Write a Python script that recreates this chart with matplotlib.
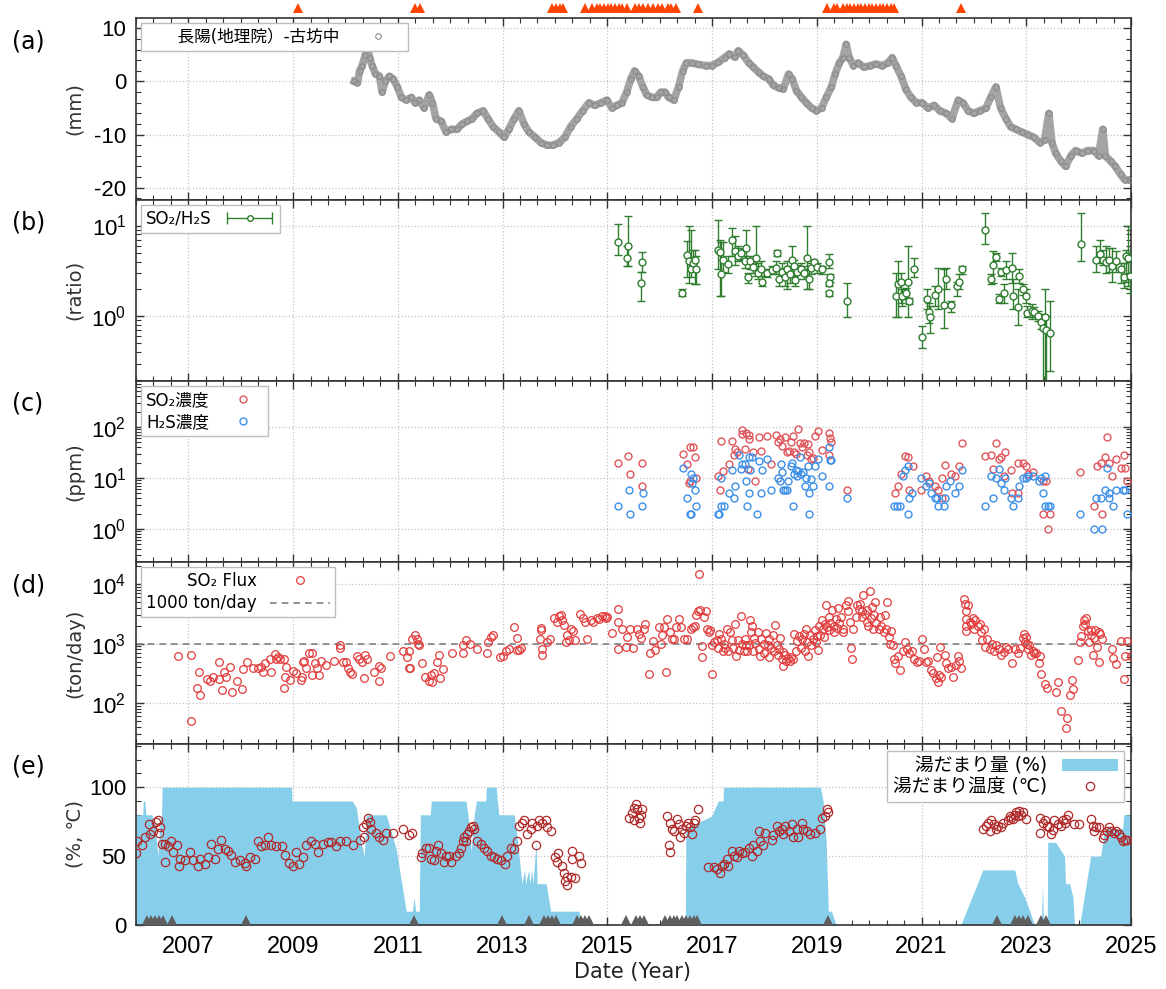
import numpy as np
import matplotlib
matplotlib.use('Agg')
import matplotlib.pyplot as plt
from matplotlib.ticker import MultipleLocator, LogLocator, NullFormatter, FixedLocator
from matplotlib.legend_handler import HandlerErrorbar
from matplotlib.container import ErrorbarContainer

# ---------------- data ----------------
# (a) GNSS baseline 長陽-古坊中, mm
gps_pts = [
    (2010.17, 0.0), (2010.23, -0.2), (2010.27, 2.0), (2010.32, 3.0), (2010.38, 5.0), (2010.42, 6.5), (2010.46, 4.5),
    (2010.51, 3.0), (2010.57, 1.5), (2010.65, 1.0), (2010.70, -2.0), (2010.76, 0.0), (2010.84, 1.0), (2010.91, 0.5),
    (2010.99, -1.0), (2011.07, -3.0), (2011.16, -3.5), (2011.26, -3.0), (2011.33, -4.0), (2011.41, -3.5), (2011.50, -5.0),
    (2011.60, -2.5), (2011.66, -4.0), (2011.73, -7.0), (2011.83, -7.5), (2011.92, -9.5), (2012.02, -9.0), (2012.13, -9.0),
    (2012.23, -8.0), (2012.32, -7.5), (2012.42, -7.0), (2012.51, -6.0), (2012.63, -5.5), (2012.72, -7.0), (2012.82, -8.5),
    (2012.93, -9.5), (2013.03, -10.5), (2013.12, -9.0), (2013.22, -7.0), (2013.31, -5.5), (2013.41, -8.0), (2013.50, -9.5),
    (2013.62, -10.5), (2013.73, -11.5), (2013.85, -12.0), (2013.96, -12.0), (2014.08, -11.5), (2014.19, -10.5),
    (2014.30, -8.5), (2014.42, -7.0), (2014.53, -5.5), (2014.65, -4.0), (2014.76, -4.5), (2014.88, -4.0), (2014.99, -3.5),
    (2015.09, -5.0), (2015.18, -4.5), (2015.28, -4.0), (2015.37, -2.0), (2015.45, 0.5), (2015.52, 2.0), (2015.60, 1.0),
    (2015.68, -1.0), (2015.75, -2.5), (2015.85, -3.0), (2015.94, -3.0), (2016.02, -2.0), (2016.10, -2.0), (2016.17, -3.0),
    (2016.27, -3.5), (2016.36, -1.0), (2016.44, 2.0), (2016.51, 3.5), (2016.61, 3.5), (2016.74, 3.2), (2016.88, 3.0),
    (2016.99, 3.0), (2017.12, 3.6), (2017.24, 4.5), (2017.33, 5.2), (2017.43, 4.6), (2017.50, 5.8), (2017.60, 4.9),
    (2017.70, 3.5), (2017.79, 2.7), (2017.89, 1.7), (2017.98, 1.0), (2018.08, 0.5), (2018.17, -0.7), (2018.27, -1.2),
    (2018.36, -1.4), (2018.46, 1.4), (2018.53, 0.5), (2018.61, -1.7), (2018.70, -2.9), (2018.80, -4.0), (2018.90, -5.0),
    (2018.99, -5.5), (2019.09, -5.0), (2019.18, -3.0), (2019.28, -1.0), (2019.35, 1.4), (2019.43, 3.5), (2019.50, 4.5),
    (2019.56, 7.0), (2019.62, 4.5), (2019.70, 3.0), (2019.79, 3.5), (2019.90, 2.7), (2020.02, 3.0), (2020.13, 3.3),
    (2020.25, 3.0), (2020.36, 3.5), (2020.44, 4.5), (2020.51, 3.0), (2020.61, 1.0), (2020.70, -1.5), (2020.80, -3.0),
    (2020.90, -4.0), (2021.01, -4.0), (2021.12, -5.0), (2021.24, -4.5), (2021.35, -5.5), (2021.47, -6.0), (2021.58, -7.0),
    (2021.70, -3.5), (2021.79, -4.0), (2021.89, -5.5), (2022.00, -6.0), (2022.11, -5.5), (2022.23, -5.0), (2022.32, -3.0),
    (2022.42, -1.0), (2022.51, -5.0), (2022.61, -7.0), (2022.70, -8.5), (2022.80, -9.0), (2022.91, -9.5), (2023.03, -10.0),
    (2023.14, -10.5), (2023.26, -11.5), (2023.35, -11.0), (2023.43, -6.0), (2023.49, -11.5), (2023.56, -13.5),
    (2023.66, -15.0), (2023.75, -16.0), (2023.85, -14.0), (2023.94, -13.0), (2024.06, -13.5), (2024.17, -13.0),
    (2024.29, -13.0), (2024.38, -14.0), (2024.46, -9.0), (2024.51, -14.0), (2024.61, -15.0), (2024.70, -16.0),
    (2024.80, -17.5), (2024.88, -18.5), (2024.97, -18.5),
]

# eruptions (orange triangles above panel a)
eruption_year = [2009.09, 2011.33, 2011.42, 2013.95, 2014.02, 2014.09, 2014.16, 2014.58, 2014.70, 2014.80, 2014.87,
                 2014.94, 2015.01, 2015.08, 2015.15, 2015.22, 2015.29, 2015.38, 2015.52, 2015.60, 2015.68, 2015.78,
                 2015.87, 2015.96, 2016.05, 2016.15, 2016.22, 2016.32, 2016.73, 2019.20, 2019.32, 2019.38, 2019.50,
                 2019.57, 2019.64, 2019.71, 2019.78, 2019.85, 2019.92, 2019.99, 2020.06, 2020.13, 2020.20, 2020.27,
                 2020.34, 2020.41, 2020.47, 2021.75]

# (b) SO2/H2S ratio: value with lower / upper bound
ratio_year = [2015.21, 2015.40, 2015.38, 2015.67, 2015.65, 2016.43, 2016.53, 2016.56, 2016.59, 2016.64, 2016.68, 2016.70,
              2017.11, 2017.15, 2017.17, 2017.20, 2017.31, 2017.39, 2017.43, 2017.49, 2017.56, 2017.63, 2017.65, 2017.69,
              2017.73, 2017.79, 2017.84, 2017.88, 2017.94, 2017.95,
              2018.05, 2018.14, 2018.24, 2018.22, 2018.28, 2018.33, 2018.39, 2018.44, 2018.48, 2018.53, 2018.57, 2018.59,
              2018.63, 2018.70, 2018.76, 2018.82, 2018.85, 2018.89, 2018.95,
              2019.00, 2019.09, 2019.23, 2019.25, 2019.24, 2019.24, 2019.58,
              2020.51, 2020.56, 2020.60, 2020.63, 2020.70, 2020.75, 2020.77, 2020.85,
              2021.00, 2021.11, 2021.15, 2021.17, 2021.26, 2021.32, 2021.43, 2021.47, 2021.56, 2021.67, 2021.72, 2021.77,
              2022.22, 2022.33, 2022.37, 2022.42, 2022.48, 2022.52, 2022.57, 2022.61, 2022.72, 2022.75, 2022.84, 2022.86,
              2022.93, 2022.99,
              2023.02, 2023.10, 2023.15, 2023.23, 2023.29, 2023.32, 2023.35, 2023.38, 2023.45,
              2024.04, 2024.34, 2024.41, 2024.47, 2024.53, 2024.58, 2024.64, 2024.72, 2024.81, 2024.86, 2024.90, 2024.95,
              2024.98]
ratio_val = [6.6, 5.9, 4.4, 4.0, 2.3, 1.78, 4.7, 4.1, 3.3, 3.9, 4.2, 3.3,
             5.4, 5.1, 2.9, 4.2, 3.8, 6.9, 5.2, 4.6, 5.0, 4.1, 5.6, 2.7, 4.1, 3.5, 4.4, 3.0, 3.3, 2.4,
             3.0, 3.2, 5.0, 3.4, 2.6, 3.1, 2.7, 3.3, 2.9, 4.2, 3.6, 2.5, 3.1, 3.3, 3.0, 4.4, 2.6, 3.4, 4.0,
             3.5, 3.3, 4.0, 2.7, 2.3, 1.79, 1.47,
             1.65, 2.25, 2.4, 1.65, 1.79, 2.4, 1.47, 3.3,
             0.59, 1.56, 1.12, 0.99, 1.70, 1.98, 1.32, 2.55, 1.32, 2.15, 2.4, 3.3,
             8.9, 2.55, 3.7, 4.5, 1.56, 3.1, 1.82, 3.2, 3.4, 1.65, 1.25, 2.8, 1.98, 1.67,
             1.08, 1.15, 1.12, 1.01, 0.87, 0.75, 0.97, 0.71, 0.65,
             6.3, 4.2, 4.9, 4.2, 4.0, 4.2, 3.6, 4.1, 3.3, 2.7, 4.6, 4.4, 2.8]
ratio_lo = [4.7, 3.6, 3.6, 3.1, 1.47, 1.65, 2.7, 2.3, 2.7, 3.3, 2.25, 2.25,
            3.3, 1.67, 1.67, 3.1, 3.0, 4.6, 3.7, 4.1, 4.2, 3.4, 4.1, 2.3, 3.3, 3.0, 2.8, 2.55, 2.8, 2.15,
            2.7, 2.9, 4.6, 2.9, 2.15, 2.55, 2.15, 1.98, 2.3, 3.1, 2.8, 2.15, 2.6, 2.9, 2.55, 1.98, 1.98, 2.9, 3.6,
            3.0, 2.9, 3.4, 2.4, 2.15, 1.67, 0.99,
            0.99, 0.99, 1.41, 1.30, 1.54, 0.99, 1.36, 2.7,
            0.45, 1.19, 0.85, 0.66, 1.30, 1.19, 0.75, 1.98, 1.10, 1.67, 1.98, 2.9,
            6.3, 2.25, 2.3, 4.1, 1.41, 2.8, 1.41, 2.55, 2.3, 1.19, 0.80, 2.3, 1.70, 1.41,
            0.97, 0.93, 0.97, 0.89, 0.72, 0.16, 0.16, 0.16, 0.25,
            4.1, 3.1, 3.9, 3.7, 3.0, 3.1, 2.4, 3.1, 2.3, 2.07, 2.4, 2.15, 1.82]
ratio_hi = [10.3, 12.7, 5.9, 5.1, 3.1, 1.98, 6.7, 9.8, 9.0, 5.4, 5.4, 4.6,
            11.6, 7.0, 6.5, 6.5, 4.6, 9.4, 7.6, 5.9, 5.7, 4.6, 8.9, 3.0, 4.6, 4.1, 9.8, 3.9, 4.1, 2.8,
            3.3, 3.6, 5.4, 4.1, 3.3, 3.9, 3.4, 4.1, 3.6, 5.9, 4.2, 3.0, 3.7, 3.9, 3.6, 10.0, 3.3, 3.9, 4.2,
            3.9, 3.6, 4.8, 2.9, 2.4, 1.90, 2.3,
            3.0, 4.1, 3.0, 1.98, 2.07, 5.9, 1.60, 4.4,
            0.77, 1.98, 1.41, 1.30, 2.15, 3.4, 3.3, 3.4, 1.47, 2.4, 2.9, 3.6,
            13.8, 2.9, 5.2, 5.0, 1.74, 3.4, 2.25, 4.1, 5.0, 2.55, 1.98, 3.3, 2.25, 1.98,
            1.30, 1.36, 1.25, 1.15, 1.05, 0.97, 1.98, 1.01, 1.47,
            13.8, 5.9, 6.9, 5.4, 5.9, 5.7, 5.7, 5.2, 3.9, 3.9, 5.4, 9.8, 5.0]

# (c) SO2 and H2S concentration, ppm
so2_year = [2015.21, 2015.39, 2015.43, 2015.67, 2015.66, 2016.45, 2016.53, 2016.58, 2016.63, 2016.67, 2016.57, 2016.56,
            2016.70,
            2017.16, 2017.12, 2017.20, 2017.18, 2017.32, 2017.39, 2017.41, 2017.43, 2017.48, 2017.57, 2017.57, 2017.64,
            2017.63, 2017.70, 2017.70, 2017.68, 2017.79, 2017.82, 2017.90, 2017.93,
            2018.05, 2018.12, 2018.22, 2018.25, 2018.30, 2018.34, 2018.40, 2018.44, 2018.47, 2018.51, 2018.54, 2018.56,
            2018.60, 2018.65, 2018.67, 2018.72, 2018.76, 2018.81, 2018.83, 2018.86, 2018.88, 2018.93, 2018.97,
            2019.03, 2019.10, 2019.24, 2019.25, 2019.28, 2019.23, 2019.57,
            2020.69, 2020.74, 2020.83, 2020.61, 2020.55, 2020.50, 2020.77, 2020.99,
            2021.09, 2021.14, 2021.25, 2021.31, 2021.40, 2021.45, 2021.40, 2021.56, 2021.64, 2021.72, 2021.77,
            2022.21, 2022.32, 2022.42, 2022.47, 2022.51, 2022.60, 2022.36, 2022.57, 2022.71, 2022.84, 2022.93, 2022.99,
            2023.04, 2023.13, 2022.73, 2022.84,
            2023.32, 2023.37, 2023.32, 2023.45, 2023.41,
            2024.03, 2024.30, 2024.45, 2024.35, 2024.42, 2024.51, 2024.55, 2024.58, 2024.64, 2024.72, 2024.81, 2024.87,
            2024.88, 2024.93]
so2_ppm = [20, 27, 12, 20, 7, 29, 19, 41, 41, 26, 8.8, 7.9, 10,
           5.8, 10.8, 13.6, 52, 19, 54, 28, 37, 32, 86, 74, 77, 37, 58, 71, 15, 32, 8.8, 63, 34,
           68, 19, 71, 50, 58, 43, 65, 32, 34, 50, 68, 32, 29, 93, 48, 40, 48, 28, 46, 32, 23, 25, 68,
           83, 35, 76, 60, 50, 28, 5.8,
           27, 26, 17, 12, 7.0, 5.0, 5.8, 5.8,
           10.8, 8.8, 7.0, 5.8, 10, 18, 4.0, 12, 10.8, 17, 48,
           27, 28, 48, 24, 26, 32, 15, 10.8, 14, 20, 20, 17, 11.7, 13, 5.0, 5.0,
           8.8, 8.8, 2.0, 2.0, 1.0,
           13, 2.8, 2.0, 17, 20, 26, 63, 20, 10.8, 24, 16, 28, 16, 8.8]
h2s_year = [2015.21, 2015.41, 2015.43, 2015.66, 2015.69,
            2016.45, 2016.53, 2016.57, 2016.59, 2016.59, 2016.61, 2016.64, 2016.67, 2016.70,
            2017.11, 2017.14, 2017.18, 2017.18, 2017.22, 2017.32, 2017.39, 2017.41, 2017.43, 2017.51, 2017.55, 2017.57,
            2017.63, 2017.64, 2017.66, 2017.70, 2017.70, 2017.73, 2017.77, 2017.86, 2017.90, 2017.94, 2017.95,
            2018.05, 2018.12, 2018.25, 2018.29, 2018.32, 2018.36, 2018.39, 2018.44, 2018.34, 2018.45, 2018.51, 2018.53,
            2018.55, 2018.56, 2018.60, 2018.62, 2018.65, 2018.67, 2018.69, 2018.73, 2018.77, 2018.80, 2018.83, 2018.85,
            2018.86, 2018.88, 2018.92, 2018.97,
            2019.03, 2019.10, 2019.23, 2019.24, 2019.26, 2019.28, 2019.57,
            2020.48, 2020.53, 2020.58, 2020.64, 2020.69, 2020.74, 2020.74, 2020.77, 2020.81, 2020.99,
            2021.09, 2021.14, 2021.18, 2021.25, 2021.29, 2021.31, 2021.42, 2021.44, 2021.46, 2021.55, 2021.64, 2021.72,
            2021.77,
            2022.21, 2022.32, 2022.37, 2022.42, 2022.48, 2022.51, 2022.57, 2022.60, 2022.71, 2022.74, 2022.84, 2022.86,
            2022.94, 2022.99,
            2023.04, 2023.13, 2023.24, 2023.28, 2023.35, 2023.32, 2023.35, 2023.41, 2023.45,
            2024.03, 2024.30, 2024.45, 2024.34, 2024.42, 2024.51, 2024.55, 2024.58, 2024.58, 2024.65, 2024.72, 2024.85,
            2024.89, 2024.93]
h2s_ppm = [2.8, 5.8, 2.0, 2.8, 5.0,
           16, 4.0, 2.0, 2.0, 12, 7.9, 10, 5.8, 2.8,
           2.0, 2.0, 10, 2.8, 2.8, 5.0, 14, 4.0, 7.0, 28, 15, 19, 19, 8.8, 2.8, 26, 5.0, 14, 26, 2.0, 21, 5.0, 14,
           23, 5.8, 10, 8.8, 19, 5.8, 5.8, 5.8, 13, 8.8, 17, 20, 2.8, 12, 14, 10.8, 13.6, 26, 12, 13, 7.0, 10, 17, 2.0,
           5.0, 9.7, 7.0, 17,
           23, 10.8, 7.0, 41, 22, 22, 4.0,
           2.8, 2.8, 2.8, 10.8, 14, 17, 2.0, 4.0, 5.0, 10,
           7.0, 7.9, 5.0, 4.0, 4.0, 2.8, 2.8, 4.0, 7.0, 8.8, 5.0, 7.0, 14,
           2.8, 10.8, 4.0, 10, 15, 7.9, 5.8, 10, 4.0, 2.8, 4.0, 7.0, 10, 10,
           10.8, 10.8, 8.8, 10, 10.8, 5.0, 2.8, 2.8, 2.8,
           2.0, 1.0, 1.0, 4.0, 4.0, 5.8, 16, 5.0, 4.0, 2.8, 5.8, 5.8, 5.8, 2.0]

# (d) SO2 flux, ton/day
flux_pts = [
    (2006.81, 617), (2007.06, 640), (2007.06, 51), (2007.16, 182), (2007.21, 337), (2007.22, 138), (2007.35, 255),
    (2007.42, 236), (2007.47, 279), (2007.59, 496), (2007.59, 255), (2007.65, 167), (2007.68, 337), (2007.71, 279),
    (2007.79, 408), (2007.84, 157), (2007.93, 236), (2008.02, 171), (2008.04, 374), (2008.12, 483), (2008.23, 394),
    (2008.33, 390), (2008.39, 408), (2008.43, 337), (2008.47, 464), (2008.55, 562), (2008.58, 337), (2008.65, 656),
    (2008.68, 562), (2008.72, 600), (2008.75, 562), (2008.83, 182), (2008.83, 550), (2008.85, 279), (2008.87, 408),
    (2008.95, 245), (2009.00, 347), (2009.05, 316), (2009.16, 245), (2009.17, 279), (2009.19, 496), (2009.20, 510),
    (2009.25, 390), (2009.31, 682), (2009.36, 708), (2009.37, 297), (2009.41, 464), (2009.45, 394), (2009.49, 297),
    (2009.54, 510), (2009.62, 436), (2009.79, 510), (2009.89, 847), (2009.90, 938), (2009.95, 483), (2010.01, 483),
    (2010.04, 390), (2010.08, 329), (2010.13, 304), (2010.23, 624), (2010.26, 562), (2010.31, 496), (2010.36, 268),
    (2010.38, 640), (2010.42, 562), (2010.55, 337), (2010.65, 236), (2010.68, 394), (2010.65, 420), (2010.85, 617),
    (2011.09, 747), (2011.17, 600), (2011.21, 747), (2011.21, 390), (2011.23, 394), (2011.28, 1211), (2011.33, 1413),
    (2011.37, 1185), (2011.40, 962), (2011.39, 1000), (2011.46, 464), (2011.52, 279), (2011.60, 236), (2011.63, 297),
    (2011.65, 229), (2011.70, 316), (2011.74, 496), (2011.79, 640), (2011.80, 268), (2011.86, 374), (2012.04, 682),
    (2012.24, 708), (2012.25, 938), (2012.31, 1135), (2012.37, 1000), (2012.51, 805), (2012.70, 708), (2012.73, 1067),
    (2012.78, 1291), (2012.82, 1413), (2012.96, 600), (2013.00, 624), (2013.06, 747), (2013.13, 805), (2013.21, 1897),
    (2013.27, 1244), (2013.27, 776), (2013.31, 776), (2013.36, 847), (2013.72, 1211), (2013.74, 1667), (2013.74, 1850),
    (2013.76, 820), (2013.76, 640), (2013.85, 1067), (2013.90, 1185), (2013.99, 2680), (2014.03, 2300), (2014.08, 2900),
    (2014.11, 3040), (2014.14, 2450), (2014.17, 2075), (2014.21, 1067), (2014.23, 1377), (2014.26, 1135), (2014.30, 1778),
    (2014.35, 1600), (2014.39, 1135), (2014.48, 3162), (2014.53, 2680), (2014.57, 2300), (2014.62, 1185), (2014.68, 2450),
    (2014.73, 2300), (2014.80, 2680), (2014.84, 2540), (2014.89, 2900), (2014.95, 2900), (2014.98, 2680), (2015.00, 2800),
    (2015.09, 1524), (2015.20, 3830), (2015.20, 2300), (2015.20, 805), (2015.29, 1778), (2015.36, 881), (2015.38, 1291),
    (2015.43, 1778), (2015.49, 847), (2015.56, 1778), (2015.61, 1468), (2015.65, 1244), (2015.70, 1778), (2015.72, 2154),
    (2015.79, 304), (2015.81, 682), (2015.88, 1094), (2015.92, 776), (2015.98, 1897), (2016.03, 1000), (2016.05, 1377),
    (2016.08, 1897), (2016.12, 329), (2016.14, 2540), (2016.19, 1567), (2016.23, 1211), (2016.28, 1211), (2016.32, 1897),
    (2016.37, 2540), (2016.41, 1897), (2016.46, 1211), (2016.53, 1211), (2016.59, 1778), (2016.64, 1897), (2016.67, 2000),
    (2016.70, 2965), (2016.73, 3550), (2016.75, 14700), (2016.77, 3600), (2016.80, 600), (2016.80, 910), (2016.84, 2800),
    (2016.89, 3550), (2016.91, 1778), (2016.94, 1567), (2016.97, 1667), (2017.00, 304), (2017.00, 938), (2017.04, 1067),
    (2017.09, 1135), (2017.11, 847), (2017.13, 1468), (2017.18, 1211), (2017.20, 747), (2017.22, 1000), (2017.25, 847),
    (2017.29, 1778), (2017.31, 747), (2017.34, 1567), (2017.38, 1135), (2017.40, 847), (2017.43, 2154), (2017.45, 624),
    (2017.49, 1135), (2017.52, 776), (2017.56, 2900), (2017.58, 1000), (2017.61, 747), (2017.63, 1185), (2017.65, 938),
    (2017.67, 747), (2017.70, 938), (2017.72, 2450), (2017.74, 1567), (2017.76, 2000), (2017.79, 747), (2017.81, 1244),
    (2017.82, 1030), (2017.88, 1567), (2017.90, 805), (2017.92, 624), (2017.94, 1185), (2017.99, 682), (2018.00, 1000),
    (2018.03, 1524), (2018.06, 938), (2018.08, 600), (2018.09, 1211), (2018.12, 847), (2018.17, 1413), (2018.18, 747),
    (2018.21, 2075), (2018.24, 962), (2018.26, 640), (2018.27, 805), (2018.30, 1244), (2018.33, 562), (2018.35, 720),
    (2018.36, 425), (2018.39, 640), (2018.42, 510), (2018.45, 580), (2018.48, 510), (2018.51, 600), (2018.54, 562),
    (2018.57, 1468), (2018.60, 747), (2018.62, 1094), (2018.66, 1330), (2018.69, 847), (2018.71, 1211), (2018.75, 1468),
    (2018.78, 747), (2018.80, 1778), (2018.82, 1067), (2018.84, 624), (2018.87, 1413), (2018.89, 938), (2018.93, 1185),
    (2018.96, 1667), (2018.98, 1067), (2019.00, 1330), (2019.02, 776), (2019.05, 2000), (2019.06, 1413), (2019.09, 2450),
    (2019.11, 1778), (2019.14, 1291), (2019.15, 2154), (2019.18, 4470), (2019.20, 1897), (2019.23, 2800), (2019.24, 1667),
    (2019.26, 2200), (2019.29, 3620), (2019.32, 1950), (2019.33, 1567), (2019.36, 2540), (2019.38, 1850), (2019.41, 3935),
    (2019.42, 2200), (2019.47, 2800), (2019.50, 1567), (2019.51, 1778), (2019.56, 4350), (2019.59, 5270), (2019.60, 3550),
    (2019.63, 2300), (2019.65, 847), (2019.68, 550), (2019.69, 1778), (2019.74, 2800), (2019.77, 4470), (2019.80, 3830),
    (2019.83, 4600), (2019.86, 3550), (2019.87, 2800), (2019.89, 6560), (2019.92, 3162), (2019.95, 2300), (2019.96, 3600),
    (2019.98, 2000), (2020.01, 7750), (2020.04, 2680), (2020.05, 4100), (2020.07, 1778), (2020.10, 3040), (2020.12, 4950),
    (2020.14, 2200), (2020.19, 1778), (2020.21, 2800), (2020.23, 2000), (2020.28, 1567), (2020.30, 3040), (2020.32, 1778),
    (2020.34, 4950), (2020.37, 1291), (2020.39, 1000), (2020.41, 1600), (2020.46, 938), (2020.48, 562), (2020.50, 464),
    (2020.55, 624), (2020.59, 360), (2020.64, 747), (2020.68, 1067), (2020.73, 805), (2020.77, 682), (2020.82, 747),
    (2020.86, 562), (2020.91, 496), (2020.95, 510), (2021.00, 1185), (2021.04, 805), (2021.09, 496), (2021.13, 510),
    (2021.18, 360), (2021.22, 316), (2021.27, 261), (2021.29, 600), (2021.31, 229), (2021.34, 297), (2021.36, 881),
    (2021.38, 279), (2021.45, 640), (2021.47, 464), (2021.51, 390), (2021.56, 408), (2021.60, 279), (2021.65, 436),
    (2021.69, 624), (2021.72, 510), (2021.76, 390), (2021.81, 5620), (2021.83, 4600), (2021.84, 3550), (2021.85, 2540),
    (2021.85, 2000), (2021.85, 1600), (2021.89, 4350), (2021.92, 2300), (2021.94, 2154), (2021.98, 2680), (2022.01, 1778),
    (2022.03, 2450), (2022.07, 2000), (2022.12, 2154), (2022.14, 1567), (2022.16, 1135), (2022.19, 1778), (2022.21, 881),
    (2022.25, 1211), (2022.30, 805), (2022.34, 1000), (2022.39, 747), (2022.43, 938), (2022.48, 805), (2022.52, 640),
    (2022.57, 720), (2022.61, 881), (2022.66, 805), (2022.73, 464), (2022.79, 820), (2022.84, 708), (2022.88, 847),
    (2022.93, 1244), (2022.96, 1468), (2022.97, 1067), (2023.00, 1291), (2023.02, 1000), (2023.04, 805), (2023.06, 938),
    (2023.09, 640), (2023.13, 747), (2023.15, 708), (2023.19, 682), (2023.24, 464), (2023.27, 624), (2023.29, 304),
    (2023.36, 207), (2023.40, 182), (2023.57, 152), (2023.61, 224), (2023.67, 74), (2023.78, 56), (2023.75, 39),
    (2023.84, 138), (2023.89, 174), (2023.87, 245), (2023.99, 528), (2024.03, 1067), (2024.05, 1330), (2024.08, 2000),
    (2024.11, 2450), (2024.12, 2154), (2024.14, 2680), (2024.18, 1600), (2024.20, 1067), (2024.23, 1413), (2024.23, 1667),
    (2024.27, 640), (2024.29, 1244), (2024.32, 1667), (2024.35, 881), (2024.38, 1567), (2024.39, 483), (2024.41, 1468),
    (2024.44, 1211), (2024.63, 805), (2024.65, 580), (2024.72, 450), (2024.80, 1094), (2024.86, 255), (2024.89, 624),
    (2024.92, 1094), (2025.00, 624),
]
flux_ref = 1000

# (e) crater lake water amount (%) and temperature (deg C)
lake_pts = [
    (2006.00, 80), (2006.13, 80), (2006.14, 90), (2006.17, 90), (2006.19, 80), (2006.30, 80), (2006.36, 75),
    (2006.42, 50), (2006.46, 75), (2006.49, 80), (2006.50, 100), (2008.97, 100), (2008.98, 90), (2010.13, 90),
    (2010.21, 85), (2010.30, 60), (2010.36, 50), (2010.40, 80), (2010.78, 80), (2010.97, 55), (2011.16, 10),
    (2011.28, 10), (2011.31, 20), (2011.34, 10), (2011.41, 10), (2011.43, 80), (2011.62, 80), (2011.64, 90),
    (2012.30, 90), (2012.34, 80), (2012.40, 54), (2012.46, 80), (2012.50, 90), (2012.68, 90), (2012.69, 100),
    (2012.88, 100), (2012.90, 90), (2012.93, 80), (2013.22, 80), (2013.26, 70), (2013.37, 30), (2013.42, 40),
    (2013.44, 30), (2013.50, 40), (2013.52, 30), (2013.56, 40), (2013.58, 30), (2013.64, 60), (2013.66, 30),
    (2013.83, 30), (2013.92, 10), (2014.46, 10), (2014.50, 0), (2016.49, 0), (2016.50, 70), (2016.99, 79),
    (2017.12, 90), (2017.21, 90), (2017.22, 100), (2019.07, 100), (2019.12, 90), (2019.18, 60), (2019.22, 10),
    (2019.28, 10), (2019.37, 0), (2021.75, 0), (2022.17, 40), (2022.78, 40), (2022.84, 30), (2022.97, 20),
    (2023.16, 0), (2023.29, 0), (2023.31, 30), (2023.33, 0), (2023.40, 0), (2023.41, 60), (2023.56, 60),
    (2023.73, 50), (2023.75, 30), (2023.83, 30), (2023.89, 20), (2023.92, 0), (2024.02, 0), (2024.23, 50),
    (2024.42, 50), (2024.50, 70), (2024.84, 70), (2024.86, 80), (2025.00, 80),
]
temp_pts = [
    (2006.01, 52), (2006.02, 61), (2006.11, 58), (2006.17, 64), (2006.24, 73), (2006.27, 66), (2006.33, 68),
    (2006.39, 75), (2006.43, 76), (2006.44, 67), (2006.46, 71), (2006.49, 59), (2006.55, 59), (2006.55, 46),
    (2006.62, 57), (2006.66, 61), (2006.71, 53), (2006.78, 58), (2006.83, 43), (2006.84, 48), (2006.93, 47),
    (2007.03, 53), (2007.09, 47), (2007.19, 43), (2007.22, 48), (2007.31, 44), (2007.38, 49), (2007.44, 59),
    (2007.51, 48), (2007.57, 55), (2007.63, 62), (2007.70, 55), (2007.76, 54), (2007.82, 51), (2007.89, 46),
    (2007.98, 47), (2008.08, 45), (2008.11, 43), (2008.17, 49), (2008.27, 48), (2008.33, 61), (2008.39, 57),
    (2008.46, 58), (2008.52, 64), (2008.58, 58), (2008.68, 57), (2008.78, 57), (2008.84, 51), (2008.93, 45),
    (2009.00, 43), (2009.06, 53), (2009.12, 44), (2009.19, 49), (2009.25, 58), (2009.35, 61), (2009.41, 59),
    (2009.47, 53), (2009.57, 59), (2009.66, 60), (2009.73, 60), (2009.82, 57), (2009.89, 61), (2010.01, 61),
    (2010.14, 58), (2010.27, 62), (2010.33, 71), (2010.36, 64), (2010.39, 73), (2010.43, 78), (2010.46, 75),
    (2010.49, 70), (2010.58, 67), (2010.65, 64), (2010.71, 62), (2010.78, 67), (2010.90, 67), (2011.09, 70),
    (2011.22, 65), (2011.28, 67), (2011.44, 49), (2011.47, 52), (2011.54, 56), (2011.60, 56), (2011.63, 48),
    (2011.70, 47), (2011.73, 54), (2011.76, 58), (2011.82, 52), (2011.89, 46), (2011.92, 50), (2011.98, 50),
    (2012.01, 46), (2012.11, 50), (2012.17, 52), (2012.20, 56), (2012.24, 61), (2012.27, 64), (2012.30, 61),
    (2012.33, 66), (2012.36, 68), (2012.39, 71), (2012.43, 72), (2012.46, 70), (2012.52, 61), (2012.58, 59),
    (2012.65, 56), (2012.71, 54), (2012.78, 50), (2012.84, 49), (2012.90, 48), (2012.97, 47), (2013.05, 44),
    (2013.09, 50), (2013.16, 56), (2013.22, 55), (2013.28, 61), (2013.31, 72), (2013.37, 74), (2013.41, 76),
    (2013.47, 66), (2013.54, 70), (2013.57, 74), (2013.63, 58), (2013.66, 72), (2013.70, 76), (2013.76, 74),
    (2013.82, 76), (2013.85, 71), (2013.92, 68), (2014.01, 49), (2014.03, 46), (2014.05, 52), (2014.13, 43),
    (2014.17, 38), (2014.19, 32), (2014.24, 29), (2014.24, 35), (2014.30, 35), (2014.32, 54), (2014.33, 48),
    (2014.38, 34), (2014.46, 50), (2014.49, 45), (2015.41, 78), (2015.47, 81), (2015.51, 85), (2015.54, 88),
    (2015.57, 84), (2015.51, 76), (2015.60, 78), (2015.63, 74), (2015.66, 84), (2015.65, 80), (2016.14, 79),
    (2016.17, 58), (2016.19, 74), (2016.20, 53), (2016.23, 70), (2016.27, 68), (2016.33, 77), (2016.36, 73),
    (2016.39, 64), (2016.43, 70), (2016.47, 67), (2016.50, 72), (2016.55, 74), (2016.58, 71), (2016.62, 66),
    (2016.65, 74), (2016.68, 76), (2016.74, 84), (2016.93, 42), (2017.03, 42), (2017.09, 41), (2017.16, 38),
    (2017.19, 43), (2017.22, 44), (2017.28, 48), (2017.31, 43), (2017.38, 54), (2017.41, 50), (2017.47, 49),
    (2017.51, 54), (2017.57, 52), (2017.63, 53), (2017.70, 56), (2017.76, 50), (2017.79, 58), (2017.85, 54),
    (2017.89, 68), (2017.92, 61), (2017.98, 58), (2018.01, 67), (2018.14, 62), (2018.17, 65), (2018.24, 72),
    (2018.27, 68), (2018.33, 70), (2018.36, 66), (2018.39, 72), (2018.46, 68), (2018.52, 73), (2018.55, 64),
    (2018.62, 70), (2018.65, 64), (2018.71, 74), (2018.74, 70), (2018.81, 68), (2018.87, 66), (2018.97, 67),
    (2019.06, 70), (2019.09, 78), (2019.16, 79), (2019.19, 84), (2019.22, 82), (2022.17, 70), (2022.24, 72),
    (2022.27, 74), (2022.30, 68), (2022.33, 76), (2022.39, 73), (2022.43, 70), (2022.46, 72), (2022.52, 71),
    (2022.55, 74), (2022.65, 76), (2022.68, 79), (2022.71, 78), (2022.74, 77), (2022.78, 80), (2022.81, 82),
    (2022.84, 79), (2022.87, 83), (2022.90, 80), (2022.93, 82), (2022.99, 77), (2023.27, 78), (2023.27, 67),
    (2023.31, 74), (2023.36, 76), (2023.40, 72), (2023.44, 71), (2023.47, 66), (2023.51, 69), (2023.52, 76),
    (2023.60, 73), (2023.67, 72), (2023.70, 76), (2023.73, 74), (2023.76, 77), (2023.79, 80), (2023.92, 73),
    (2024.01, 73), (2024.24, 77), (2024.27, 72), (2024.30, 68), (2024.33, 71), (2024.39, 71), (2024.46, 63),
    (2024.49, 65), (2024.54, 68), (2024.57, 71), (2024.62, 68), (2024.67, 67), (2024.71, 68), (2024.78, 66),
    (2024.81, 64), (2024.84, 61), (2024.88, 62), (2024.92, 62),
]
# grey triangles at the bottom of panel e
event_year = [2006.21, 2006.29, 2006.36, 2006.44, 2006.51, 2006.69, 2008.11, 2011.31, 2012.99, 2013.50, 2013.79,
              2013.87, 2013.94, 2014.02, 2014.42, 2014.50, 2014.57, 2014.65, 2015.35, 2015.54, 2015.62, 2015.70,
              2016.11, 2016.19, 2016.27, 2016.34, 2016.42, 2016.50, 2016.57, 2016.65, 2016.72, 2019.22, 2022.44,
              2022.78, 2022.86, 2022.93, 2023.03, 2023.28, 2023.37]

year_ticks = list(range(2007, 2026, 2))
panel_tags = ['(a)', '(b)', '(c)', '(d)', '(e)']
ylabels = ['(mm)', '(ratio)', '(ppm)', '(ton/day)', '(%, ℃)']

# ---------------- styling ----------------
plt.rcParams['font.family'] = ['Liberation Sans', 'Noto Sans CJK JP']
plt.rcParams['axes.unicode_minus'] = False
plt.rcParams['mathtext.fontset'] = 'custom'
plt.rcParams['mathtext.rm'] = 'Liberation Sans'
plt.rcParams['mathtext.it'] = 'Liberation Sans:italic'
plt.rcParams['mathtext.bf'] = 'Liberation Sans:bold'
LABEL_FONT = ['DejaVu Sans', 'Noto Sans CJK JP']
LEG_FONT = dict(family=['DejaVu Sans', 'Noto Sans CJK JP'], size=12)

fig = plt.figure(figsize=(11.66, 9.89), dpi=100)
axes = fig.subplots(5, 1, sharex=True,
                    gridspec_kw=dict(hspace=0, left=0.1166, right=0.970, top=0.9815, bottom=0.0647))
ax_a, ax_b, ax_c, ax_d, ax_e = axes


def legend(ax, **kw):
    opts = dict(prop=LEG_FONT, markerfirst=False, fancybox=False, framealpha=1,
                edgecolor='#bdbdbd', handlelength=3, borderpad=0.3, labelspacing=0.25,
                handletextpad=0.8)
    opts.update(kw)
    leg = ax.legend(**opts)
    leg.get_frame().set_linewidth(1.0)
    return leg


# (a)
gy, gv = zip(*gps_pts)
ax_a.plot(gy, gv, '-', color='#a4a4a4', lw=5.5, solid_joinstyle='round', zorder=2)
ax_a.plot(gy, gv, 'o', ms=4, mfc='none', mec='#8a8a8a', mew=0.8, ls='none', zorder=3,
          label='      長陽(地理院）-古坊中')
ax_a.plot(eruption_year, np.full(len(eruption_year), 1.055), '^', color='#ff4500', ms=7, mew=0,
          transform=ax_a.get_xaxis_transform(), clip_on=False)
ax_a.set_ylim(-22.25, 11.9)
ax_a.yaxis.set_major_locator(MultipleLocator(10))
ax_a.yaxis.set_minor_locator(MultipleLocator(2))
legend(ax_a, loc='upper left', borderaxespad=0.3)

# (b)
green = '#2f7d2f'
rv = np.array(ratio_val)
yerr = [np.clip(rv - np.array(ratio_lo), 0, None), np.clip(np.array(ratio_hi) - rv, 0, None)]
ax_b.errorbar(ratio_year, rv, yerr=yerr, fmt='o', ms=5, mfc='white', mec=green, mew=1.0,
              ecolor=green, elinewidth=1.0, capsize=3, capthick=1.0, color=green, zorder=3)
# legend key drawn horizontally, like the original
key_b = ax_b.errorbar([np.nan], [np.nan], xerr=[1.0], fmt='o', ms=4, mfc='white', mec=green, mew=1.0,
                      ecolor=green, elinewidth=1.0, capsize=4, capthick=1.0, color=green)
ax_b.set_yscale('log')
ax_b.set_ylim(0.193, 19.3)
legend(ax_b, handles=[key_b], labels=['SO₂/H₂S'], loc='upper left', borderaxespad=0.3,
       handler_map={ErrorbarContainer: HandlerErrorbar(xerr_size=1.35)})

# (c)
ax_c.plot(so2_year, so2_ppm, 'o', ms=5, mfc='none', mec='#e0555b', mew=1.0, ls='none', label='SO₂濃度', zorder=3)
ax_c.plot(h2s_year, h2s_ppm, 'o', ms=5, mfc='none', mec='#3d8fe8', mew=1.0, ls='none', label='H₂S濃度', zorder=3)
ax_c.set_yscale('log')
ax_c.set_ylim(0.22, 800)
legend(ax_c, loc='upper left', borderaxespad=0.3, handlelength=2.4)

# (d)
fy, fv = zip(*flux_pts)
ax_d.plot(fy, fv, 'o', ms=5.5, mfc='none', mec='#e23c3c', mew=0.9, ls='none', label='SO₂ Flux', zorder=3)
ax_d.axhline(flux_ref, color='#808080', ls=(0, (4, 3)), lw=1.2, label='1000 ton/day', zorder=2)
ax_d.set_yscale('log')
ax_d.set_ylim(21, 23000)
legend(ax_d, loc='upper left', borderaxespad=0.3, handlelength=3.6)

# (e)
ly, lv = zip(*lake_pts)
ax_e.fill_between(ly, lv, 0, color='#87ceeb', lw=0, label='湯だまり量 (%)', zorder=1)
ty, tv = zip(*temp_pts)
ax_e.plot(ty, tv, 'o', ms=6, mfc='none', mec='#b02a2a', mew=0.9, ls='none', label='湯だまり温度 (℃)', zorder=3)
ax_e.plot(event_year, np.full(len(event_year), 0.025), '^', color='#5e5e5e', ms=7, mew=0,
          transform=ax_e.get_xaxis_transform(), clip_on=False, zorder=4)
ax_e.set_ylim(0, 131.6)
ax_e.yaxis.set_major_locator(MultipleLocator(50))
ax_e.yaxis.set_minor_locator(MultipleLocator(10))
legend(ax_e, loc='upper right', borderaxespad=0.4, prop=dict(family=LEG_FONT['family'], size=13.5),
       labelspacing=0.1, handleheight=0.6)

for ax, tag, yl in zip(axes, panel_tags, ylabels):
    ax.set_xlim(2006, 2025)
    ax.set_axisbelow(True)
    ax.grid(True, which='major', ls=':', color='#c4c4c4', lw=0.9)
    ax.xaxis.set_major_locator(FixedLocator(year_ticks))
    ax.xaxis.set_minor_locator(MultipleLocator(1 / 3))
    if ax.get_yscale() == 'log':
        ax.yaxis.set_major_locator(LogLocator(base=10))
        ax.yaxis.set_minor_locator(LogLocator(base=10, subs=np.arange(2, 10)))
        ax.yaxis.set_minor_formatter(NullFormatter())
    ax.tick_params(which='both', direction='in', top=True, right=True, color='#333333')
    ax.tick_params(which='major', length=6, width=1.0, labelsize=16, pad=7)
    ax.tick_params(which='minor', length=3.5, width=0.8)
    ax.tick_params(axis='x', labelsize=17, pad=8)
    for s in ax.spines.values():
        s.set_linewidth(1.2)
        s.set_color('#333333')
    ax.set_ylabel(yl, fontsize=14, family=LABEL_FONT, color='#333333')
    ax.yaxis.set_label_coords(-0.052, 0.5)
    pos = ax.get_position()
    fig.text(0.0103, pos.y1 - 23 / 989, tag, fontsize=17, family=LABEL_FONT, va='center', ha='left')

fig.text(633 / 1166, 1 - 972 / 989, 'Date (Year)', fontsize=15, family=LABEL_FONT, ha='center', va='center',
         color='#222222')

fig.savefig('out.png', dpi=100)
